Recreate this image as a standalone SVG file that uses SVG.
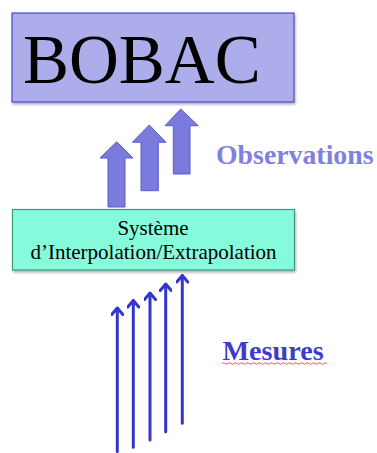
<svg xmlns="http://www.w3.org/2000/svg" width="377" height="453" viewBox="0 0 377 453">
<style>
.serif{font-family:"Liberation Serif","Times New Roman",serif}
.fat{fill:#7B7BDD;stroke:#5A5ACF;stroke-width:1}
.thin{fill:none;stroke:#3535CC;stroke-width:3;stroke-linecap:round}
</style>
<defs>
<filter id="sh" x="-10%" y="-10%" width="120%" height="130%">
<feDropShadow dx="1" dy="2" stdDeviation="1.2" flood-color="#000" flood-opacity="0.3"/>
</filter>
<marker id="ah" viewBox="0 0 10 13" refX="8.5" refY="6.5" markerWidth="10" markerHeight="13" markerUnits="userSpaceOnUse" orient="auto">
<path d="M2,1 L8.5,6.5 L2,12" fill="none" stroke="#3535CC" stroke-width="3" stroke-linecap="round" stroke-linejoin="round"/>
</marker>
</defs>
<rect width="377" height="453" fill="#fff"/>
<g id="bobac">
<rect x="12" y="13" width="282" height="89" fill="#ADADEB" stroke="#4848D8" stroke-width="1.2" filter="url(#sh)"/>
<text x="23" y="83" class="serif" font-size="69" fill="#000">BOBAC</text>
</g>
<g id="systeme">
<rect x="12.5" y="209.5" width="282" height="60.5" fill="#85FBDC" stroke="#3A9A7C" stroke-width="1.2" filter="url(#sh)"/>
<text x="153" y="235" class="serif" font-size="21" text-anchor="middle" fill="#000">Système</text>
<text x="153.5" y="258.5" class="serif" font-size="21" text-anchor="middle" fill="#000">d’Interpolation/Extrapolation</text>
</g>
<g id="observations">
<text x="216" y="163.5" class="serif" font-size="27.8" font-weight="bold" fill="#8080E0">Observations</text>
</g>
<g id="mesures">
<text x="222.5" y="359.5" class="serif" font-size="28.2" font-weight="bold" fill="#3C3CCB">Mesures</text>
<path d="M222,363.5 q1.5,-1.5 3,0 t3,0 t3,0 t3,0 t3,0 t3,0 t3,0 t3,0 t3,0 t3,0 t3,0 t3,0 t3,0 t3,0 t3,0 t3,0 t3,0 t3,0 t3,0 t3,0 t3,0 t3,0 t3,0 t3,0 t3,0 t3,0 t3,0 t3,0 t3,0 t3,0 t3,0 t3,0 t3,0 t3,0 t3,0" fill="none" stroke="#E03030" stroke-width="0.8"/>
</g>
<g id="connectors">
<path class="fat" d="M116.7,141.7 L133,158 L125,158 L125,207 L108,207 L108,158 L100,158 Z"/>
<path class="fat" d="M149.3,125 L166,142.3 L158.3,142.3 L158.3,190.7 L141,190.7 L141,142.3 L132.3,142.3 Z"/>
<path class="fat" d="M180.7,109 L198.3,125.7 L190,125.7 L190,174 L173.3,174 L173.3,125.7 L165,125.7 Z"/>
<line class="thin" x1="117.3" y1="451.5" x2="117.3" y2="308" marker-end="url(#ah)"/>
<line class="thin" x1="133.3" y1="447.3" x2="133.3" y2="300.5" marker-end="url(#ah)"/>
<line class="thin" x1="150" y1="440" x2="150" y2="293" marker-end="url(#ah)"/>
<line class="thin" x1="165.7" y1="431.7" x2="165.7" y2="284" marker-end="url(#ah)"/>
<line class="thin" x1="182.3" y1="423.3" x2="182.3" y2="275.5" marker-end="url(#ah)"/>
</g>
</svg>
